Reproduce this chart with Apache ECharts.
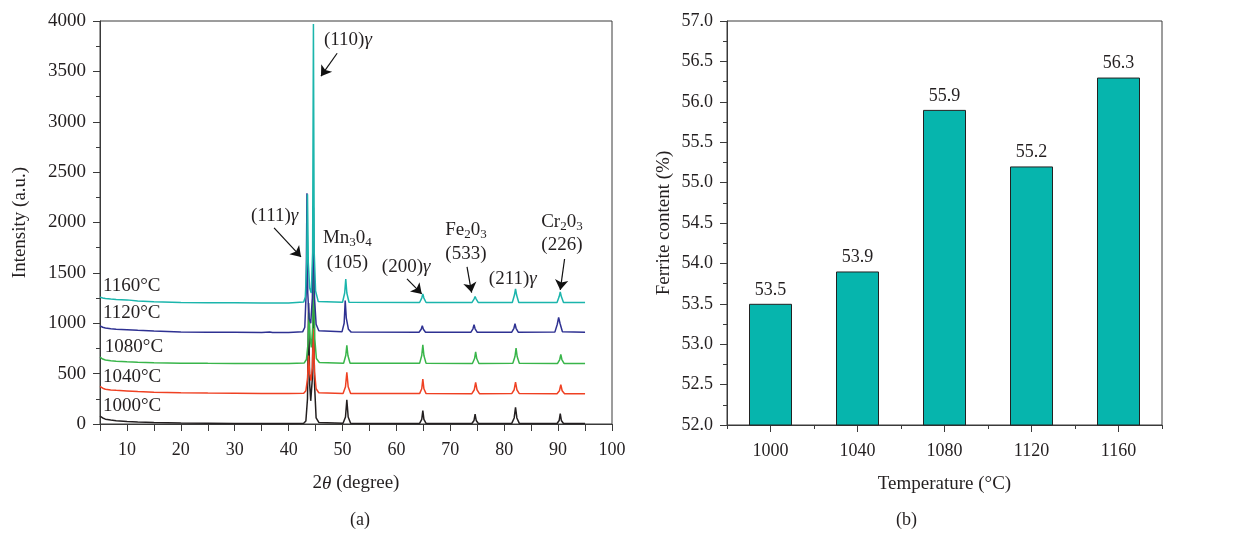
<!DOCTYPE html>
<html>
<head>
<meta charset="utf-8">
<script src="https://cdn.jsdelivr.net/npm/echarts@6/dist/echarts.min.js"></script>
<style>
html,body{margin:0;padding:0;background:#fff;}
#c{width:1238px;height:533px;}
</style>
</head>
<body>
<div id="c"></div>
<script>
// ---------- DATA: panel (a) XRD patterns, [2theta, intensity] ----------
const xrd1000 = [[5,78],[5.5,60],[6,48],[7,40],[8,33],[10,26],[12,20],[15,15],[20,10],[25,8],[30,6],[35,5],[40,5],[42.8,8],
 [43.2,30],[43.5,250],[43.7,1200],[43.9,400],[44.1,230],[44.4,450],[44.6,1350],[44.8,400],[45.1,60],[45.6,15],
 [50.1,8],[50.55,70],[50.8,241],[51.05,70],[51.5,8],
 [64.3,6],[64.7,45],[64.9,132],[65.1,45],[65.5,6],
 [74.0,5],[74.4,35],[74.6,99],[74.8,35],[75.2,5],
 [81.4,6],[81.85,60],[82.1,165],[82.35,60],[82.8,6],
 [89.8,5],[90.2,35],[90.4,102],[90.6,35],[91.0,5],[95,5]];
const xrd1040 = [[5,373],[5.5,355],[6,345],[7,338],[8,334],[10,328],[12,322],[15,316],[20,310],[25,307],[30,305],[35,303],[40,302],[42.8,306],
 [43.2,330],[43.5,450],[43.7,680],[43.9,500],[44.15,430],[44.4,560],[44.6,950],[44.8,520],[45.1,350],[45.6,310],
 [50.1,303],[50.55,370],[50.8,512],[51.05,370],[51.5,303],
 [64.3,302],[64.7,350],[64.9,446],[65.1,350],[65.5,302],
 [74.0,301],[74.45,340],[74.7,413],[74.95,340],[75.4,301],
 [81.4,302],[81.85,340],[82.1,416],[82.35,340],[82.8,302],
 [89.8,301],[90.25,330],[90.5,390],[90.75,330],[91.2,301],[95,300]];
const xrd1080 = [[5,664],[5.5,645],[6,635],[7,628],[8,624],[10,618],[12,613],[15,608],[20,604],[25,602],[30,601],[35,600],[40,600],[42.9,606],
 [43.3,640],[43.6,800],[43.8,1100],[44.0,850],[44.2,760],[44.45,950],[44.65,1700],[44.85,850],[45.15,650],[45.7,610],
 [50.2,603],[50.6,680],[50.8,780],[51.0,680],[51.4,603],
 [64.3,602],[64.7,680],[64.9,787],[65.1,680],[65.5,602],
 [74.1,601],[74.5,650],[74.7,717],[74.9,650],[75.3,601],
 [81.6,602],[82.0,670],[82.2,754],[82.4,670],[82.8,602],
 [89.9,601],[90.3,640],[90.5,690],[90.7,640],[91.1,601],[95,600]];
const xrd1120 = [[5,974],[5.5,960],[6,952],[7,945],[8,941],[10,936],[12,930],[15,922],[20,913],[25,911],[30,910],[35,909],[36.5,914],[37,909],[40,908],[42.6,915],
 [43.0,960],[43.25,1300],[43.4,2290],[43.55,1300],[43.8,1050],[44.1,1000],[44.4,1250],[44.6,2150],[44.8,1250],[45.1,990],[45.6,925],
 [49.9,915],[50.3,1000],[50.5,1226],[50.7,1050],[51.1,940],[51.6,912],
 [64.2,911],[64.6,940],[64.8,975],[65.0,940],[65.4,911],
 [73.8,910],[74.2,945],[74.4,985],[74.6,945],[75.0,910],
 [81.4,911],[81.8,950],[82.0,995],[82.2,950],[82.6,911],
 [89.4,912],[89.85,990],[90.1,1058],[90.35,1000],[90.8,915],[95,910]];
const xrd1160 = [[5,1259],[5.5,1250],[6,1245],[7,1240],[8,1236],[10,1232],[12,1222],[15,1213],[20,1205],[25,1204],[30,1203],[35,1202],[40,1202],[42.8,1210],
 [43.1,1260],[43.35,1600],[43.5,2280],[43.65,1600],[43.9,1350],[44.2,1300],[44.45,1700],[44.6,3970],[44.75,1700],[45.0,1320],[45.5,1215],
 [50.0,1208],[50.4,1300],[50.6,1438],[50.8,1300],[51.2,1208],
 [64.3,1206],[64.7,1250],[64.9,1290],[65.1,1250],[65.5,1206],
 [74.0,1205],[74.4,1240],[74.6,1266],[74.8,1240],[75.2,1205],
 [81.5,1206],[81.9,1280],[82.1,1342],[82.3,1280],[82.7,1206],
 [89.8,1206],[90.2,1265],[90.4,1310],[90.6,1265],[91.0,1206],[95,1205]];
const seriesNames = ['1000°C','1040°C','1080°C','1120°C','1160°C'];

// ---------- DATA: panel (b) ----------
const temperatures = ['1000','1040','1080','1120','1160'];
const ferrite = [53.5, 53.9, 55.9, 55.2, 56.3];

// ---------- styling / layout ----------
const FONT = '"Liberation Serif","DejaVu Serif",serif';
const TXT = '#231f20';
const AX = '#3a3a3a';
const colors = ['#231f20','#ef4123','#39b54a','#2e3192','#1bb5ac'];
const xrdData = [xrd1000, xrd1040, xrd1080, xrd1120, xrd1160];

// annotation anchors in data coordinates of panel (a)
const tempLabelPos = [[5.55,181],[5.55,462],[5.9,763],[5.55,1106],[5.55,1371]];
const annotTexts = [
  {t:'(111){i|γ}', p:[37.4,2064]},
  {t:'(110){i|γ}', p:[51.0,3809]},
  {t:'Mn{s|3}0{s|4}', p:[50.9,1846]},
  {t:'(105)', p:[50.9,1599]},
  {t:'(200){i|γ}', p:[61.8,1559]},
  {t:'Fe{s|2}0{s|3}', p:[72.9,1926]},
  {t:'(533)', p:[72.9,1688]},
  {t:'(211){i|γ}', p:[81.6,1440]},
  {t:'Cr{s|2}0{s|3}', p:[90.7,2005]},
  {t:'(226)', p:[90.7,1777]}
];
const arrows = [
  [[37.3,1946],[42.3,1658]],
  [[49.0,3680],[46.0,3452]],
  [[61.96,1440],[64.7,1291]],
  [[73.1,1559],[73.95,1304]],
  [[91.2,1638],[90.4,1331]]
];

const axisCommon = {
  axisLine:{show:true, lineStyle:{color:AX, width:1}},
  axisTick:{show:true, inside:false, length:7, lineStyle:{color:AX}},
  axisLabel:{color:TXT, fontFamily:FONT, fontSize:18},
  splitLine:{show:false},
  nameTextStyle:{color:TXT, fontFamily:FONT, fontSize:19}
};

const chart = echarts.init(document.getElementById('c'), null, {renderer:'canvas'});

const series = xrdData.map((d,i)=>({
  type:'line', name:seriesNames[i], xAxisIndex:0, yAxisIndex:0,
  data:d, showSymbol:false, symbol:'none', smooth:false,
  lineStyle:{color:colors[i], width:1.5}, z:2+i, animation:false
}));
series.push({
  type:'line', xAxisIndex:0, yAxisIndex:0, data:[], silent:true, animation:false, z:20,
  markLine:{
    silent:true, animation:false,
    symbol:['none','arrow'], symbolSize:10,
    lineStyle:{color:'#111', width:1.2, type:'solid'},
    label:{show:false},
    emphasis:{disabled:true},
    data: arrows.map(a=>[{coord:a[0]},{coord:a[1]}])
  }
});
series.push({
  type:'bar', xAxisIndex:2, yAxisIndex:1, data:ferrite, barWidth:43,
  itemStyle:{color:'#06b5ad', borderColor:'#222', borderWidth:1},
  label:{show:true, position:'top', distance:5, color:TXT, fontFamily:FONT, fontSize:18,
    formatter:p=>p.value.toFixed(1)},
  animation:false
});

chart.setOption({
  backgroundColor:'#fff',
  animation:false,
  grid:[
    {left:100, top:21, width:512, height:403, show:true, borderColor:AX, borderWidth:1},
    {left:727, top:21, width:435, height:404, show:true, borderColor:AX, borderWidth:1}
  ],
  xAxis:[
    Object.assign({}, axisCommon, {
      type:'value', gridIndex:0, min:5, max:100, interval:5,
      name:'2{i|θ} (degree)', nameLocation:'middle', nameGap:50,
      nameTextStyle:{color:TXT, fontFamily:FONT, fontSize:19, rich:{i:{fontStyle:'italic', fontFamily:FONT, fontSize:19, color:TXT}}},
      axisLabel:{color:TXT, fontFamily:FONT, fontSize:18, margin:17,
        formatter:v=>(v%10===0 ? String(v) : '')}
    }),
    { gridIndex:0, type:'value', min:5, max:100, position:'top', show:false },
    Object.assign({}, axisCommon, {
      type:'category', gridIndex:1, data:temperatures,
      name:'Temperature (°C)', nameLocation:'middle', nameGap:50,
      axisTick:{show:true, alignWithLabel:true, length:7, lineStyle:{color:AX}},
      axisLabel:{color:TXT, fontFamily:FONT, fontSize:18, margin:17}
    }),
    {
      type:'category', gridIndex:1, data:temperatures, position:'bottom',
      axisLine:{show:false}, axisLabel:{show:false},
      axisTick:{show:true, length:4, lineStyle:{color:AX}}, splitLine:{show:false}
    }
  ],
  yAxis:[
    Object.assign({}, axisCommon, {
      type:'value', gridIndex:0, min:0, max:4000, interval:500,
      name:'Intensity (a.u.)', nameLocation:'middle', nameGap:70,
      minorTick:{show:true, splitNumber:2, length:4, lineStyle:{color:AX}},
      axisLabel:{color:TXT, fontFamily:FONT, fontSize:19, margin:14, formatter:v=>String(v)}
    }),
    Object.assign({}, axisCommon, {
      type:'value', gridIndex:1, min:52, max:57, interval:0.5,
      name:'Ferrite content (%)', nameLocation:'middle', nameGap:53,
      minorTick:{show:true, splitNumber:2, length:4, lineStyle:{color:AX}},
      axisLabel:{color:TXT, fontFamily:FONT, fontSize:18, margin:14, formatter:v=>v.toFixed(1)}
    })
  ],
  series:series
});

// text annotations placed via the axes' own scales
const rich = {
  i:{fontStyle:'italic', fontFamily:FONT, fontSize:19, color:TXT},
  s:{fontFamily:FONT, fontSize:13, color:TXT, padding:[9,0,0,0]}
};
const g = [];
seriesNames.forEach((n,i)=>{
  const px = chart.convertToPixel({gridIndex:0}, tempLabelPos[i]);
  g.push({type:'text', x:px[0], y:px[1], z:100,
    style:{text:n, fill:TXT, font:'19px '+FONT, textAlign:'left', textVerticalAlign:'middle'}});
});
annotTexts.forEach(a=>{
  const px = chart.convertToPixel({gridIndex:0}, a.p);
  g.push({type:'text', x:px[0], y:px[1], z:100,
    style:{text:a.t, rich:rich, fill:TXT, fontFamily:FONT, fontSize:19, align:'center', verticalAlign:'middle'}});
});
g.push({type:'text', left:350, top:511, style:{text:'(a)', fill:TXT, font:'18px '+FONT}});
g.push({type:'text', left:896, top:511, style:{text:'(b)', fill:TXT, font:'18px '+FONT}});
chart.setOption({graphic:g});
</script>
</body>
</html>
